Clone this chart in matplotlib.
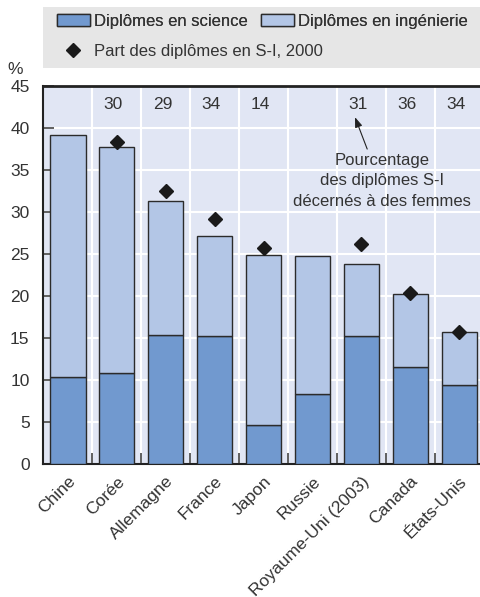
import numpy as np
import matplotlib.pyplot as plt
from matplotlib.patches import Rectangle, Patch
from matplotlib.lines import Line2D

plt.rcParams['font.family'] = ['Liberation Sans', 'DejaVu Sans']

# donnees
pays = ["Chine", "Corée", "Allemagne", "France", "Japon", "Russie",
        "Royaume-Uni (2003)", "Canada", "États-Unis"]
total = [39.2, 37.8, 31.3, 27.1, 24.9, 24.8, 23.8, 20.2, 15.7]
science = [10.3, 10.8, 15.4, 15.2, 4.7, 8.3, 15.2, 11.6, 9.4]
part_2000 = [np.nan, 38.4, 32.5, 29.2, 25.7, np.nan, 26.2, 20.4, 15.75]
femmes = ["", "30", "29", "34", "14", "", "31", "36", "34"]

ingenierie = [t - s for t, s in zip(total, science)]

c_sci = "#7199cf"
c_ing = "#b3c6e6"
c_bg = "#e1e6f4"
c_txt = "#333333"
fs = 12.5

fig = plt.figure(figsize=(4.81, 5.97), dpi=100)
ax = fig.add_axes([0.0904, 0.2228, 0.915, 0.633])
ax.set_facecolor(c_bg)

x = np.arange(len(pays))
ax.bar(x, science, width=0.72, color=c_sci, edgecolor="#2b2b2b", linewidth=1, zorder=3)
ax.bar(x, ingenierie, bottom=science, width=0.72, color=c_ing, edgecolor="#2b2b2b",
       linewidth=1, zorder=3)
ax.plot(x, part_2000, "D", color="#1a1a1a", markersize=7, zorder=4)

for xi, f in zip(x, femmes):
    ax.text(xi - 0.07, 42.8, f, ha="center", va="center", fontsize=fs, color=c_txt)

# note sur les femmes
ax.text(6.42, 33.7, "Pourcentage\ndes diplômes S-I\ndécernés à des femmes",
        ha="center", va="center", fontsize=12, color=c_txt, linespacing=1.45)
ax.annotate("", xy=(5.87, 41.3), xytext=(6.12, 37.5),
            arrowprops=dict(arrowstyle="-|>,head_length=0.6,head_width=0.22",
                            color="#222222", lw=0.8, shrinkA=0, shrinkB=0))

ax.set_xlim(-0.5, 8.5)
ax.set_ylim(0, 45)
ax.set_yticks(np.arange(0, 46, 5))
ax.set_xticks(x)
ax.set_xticklabels(pays, rotation=45, ha="right", va="top", rotation_mode="anchor",
                   fontsize=fs, color=c_txt)
ax.set_xticks(x[:-1] + 0.5, minor=True)
ax.tick_params(axis="x", which="major", length=0, pad=7)
ax.tick_params(axis="x", which="minor", direction="in", length=8, width=1.2, color="#444444")
ax.tick_params(axis="y", direction="in", length=8, width=1.2, color="#444444",
               labelsize=fs, labelcolor=c_txt, pad=10)

ax.grid(axis="y", color="white", linewidth=1.5, zorder=1)
ax.grid(axis="x", which="minor", color="white", linewidth=1.5, zorder=1)
ax.set_axisbelow(True)
for s in ["left", "bottom"]:
    ax.spines[s].set_color("#222222")
    ax.spines[s].set_linewidth(1.5)
ax.spines["top"].set_color("#222222")
ax.spines["top"].set_linewidth(2)
ax.spines["right"].set_visible(False)

fig.text(0.032, 0.884, "%", fontsize=fs, color=c_txt, ha="center", va="center")

# cadre gris de la legende
fig.patches.append(Rectangle((0.0894, 0.886), 0.92, 0.102, transform=fig.transFigure,
                             facecolor="#e6e6e6", edgecolor="none"))
leg_kw = dict(frameon=False, fontsize=12, labelcolor=c_txt, borderpad=0, borderaxespad=0,
              handlelength=2.0, handleheight=0.78, handletextpad=0.25, columnspacing=0.75)
leg1 = fig.legend([Patch(facecolor=c_sci, edgecolor="#2b2b2b", linewidth=1),
                   Patch(facecolor=c_ing, edgecolor="#2b2b2b", linewidth=1)],
                  ["Diplômes en science", "Diplômes en ingénierie"],
                  loc="center left", bbox_to_anchor=(0.118, 0.964), ncol=2, **leg_kw)
fig.add_artist(leg1)
fig.legend([Line2D([], [], marker="D", color="#1a1a1a", linestyle="none", markersize=7)],
           ["Part des diplômes en S-I, 2000"],
           loc="center left", bbox_to_anchor=(0.118, 0.913), **leg_kw)

fig.savefig("out.png", dpi=100)
